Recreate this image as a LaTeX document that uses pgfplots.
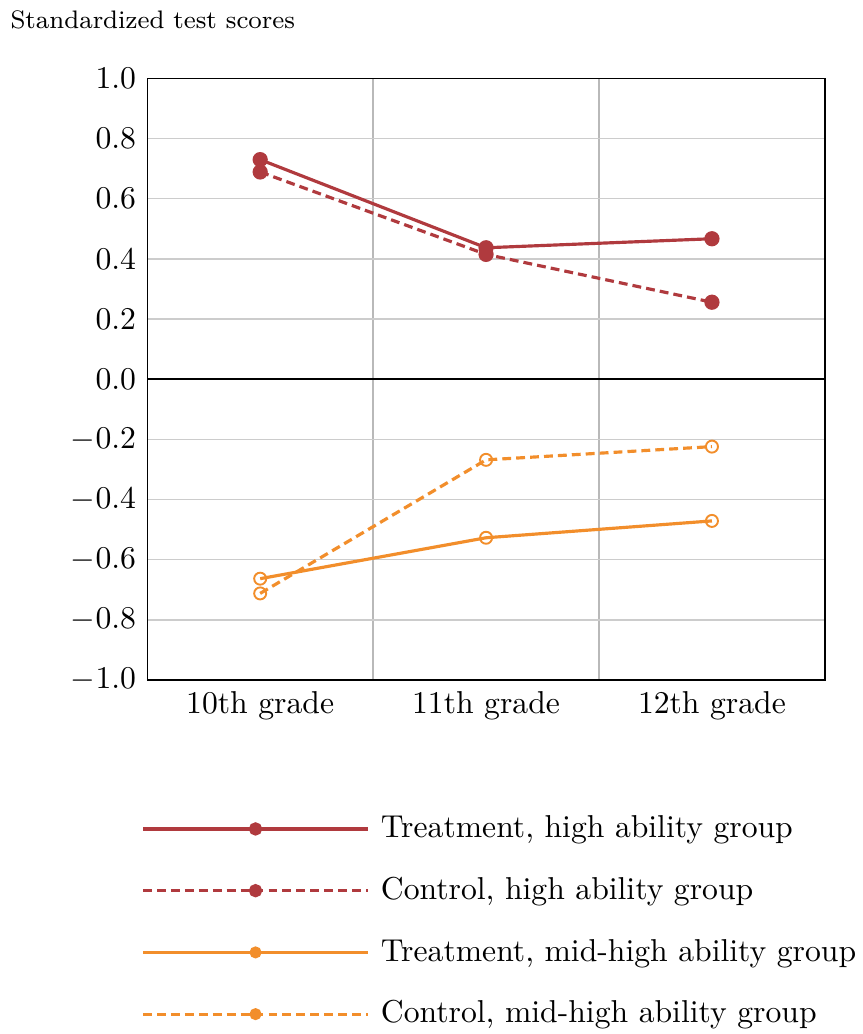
\documentclass[border=0pt]{standalone}
\usepackage{pgfplots}
\pgfplotsset{compat=1.18}
\definecolor{cred}{RGB}{176,58,62}
\definecolor{corange}{RGB}{242,142,43}
\begin{document}
\begin{tikzpicture}
\begin{axis}[
  scale only axis,
  width=214pt, height=190pt,
  xmin=0.5, xmax=3.5, ymin=-1, ymax=1,
  xtick={1,2,3},
  xticklabels={10th grade,11th grade,12th grade},
  minor xtick={1.5,2.5},
  ytick={-1,-0.8,-0.6,-0.4,-0.2,0,0.2,0.4,0.6,0.8,1},
  yticklabel style={/pgf/number format/.cd,fixed,fixed zerofill,precision=1},
  xmajorgrids=false, xminorgrids=true, ymajorgrids=true,
  grid style={gray!40, line width=0.4pt},
  minor grid style={gray!55, line width=0.4pt},
  major tick length=0pt, minor tick length=0pt,
  axis line style={line width=0.4pt},
  title={Standardized test scores},
  title style={at={(0,1)}, anchor=base west, xshift=-46.7pt, yshift=9.8pt, font=\footnotesize},
  legend cell align=left,
  legend style={at={(0,0)}, anchor=north west, xshift=-2pt, yshift=-40.6pt, draw=none, inner sep=0pt, row sep=7pt, column sep=1.6pt, font=\normalsize},
  legend image code/.code={
    \draw[mark repeat=2, mark phase=2, #1, mark=*, mark size=1.6pt] plot coordinates {(0pt,0pt)(35.5pt,0pt)(71pt,0pt)};
  },
]
\draw[black, line width=0.5pt] (axis cs:0.5,0) -- (axis cs:3.5,0);
\addplot[cred, line width=1pt, mark=*, mark size=1.9pt] coordinates {(1,0.730) (2,0.437) (3,0.467)};
\addlegendentry{Treatment, high ability group}
\addplot[cred, line width=1pt, dash pattern=on 2.8pt off 1.6pt, mark=*, mark size=1.9pt, mark options={solid}] coordinates {(1,0.689) (2,0.415) (3,0.256)};
\addlegendentry{Control, high ability group}
\addplot[corange, line width=1pt, mark=o, mark size=1.9pt, mark options={line width=0.6pt}] coordinates {(1,-0.663) (2,-0.527) (3,-0.471)};
\addlegendentry{Treatment, mid-high ability group}
\addplot[corange, line width=1pt, dash pattern=on 2.8pt off 1.6pt, mark=o, mark size=1.9pt, mark options={solid, line width=0.6pt}] coordinates {(1,-0.712) (2,-0.268) (3,-0.224)};
\addlegendentry{Control, mid-high ability group}
\end{axis}
\end{tikzpicture}
\end{document}
